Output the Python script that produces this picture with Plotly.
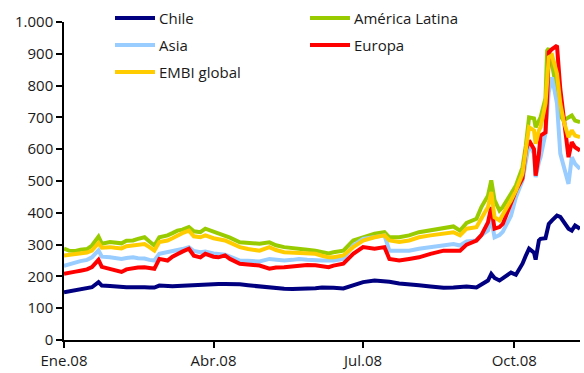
import plotly.graph_objects as go

# Spreads (basis points), 2008
dates = [
    "2008-01-01", "2008-01-04", "2008-01-08", "2008-01-11", "2008-01-15", "2008-01-18",
    "2008-01-22", "2008-01-24", "2008-01-29", "2008-02-01", "2008-02-05", "2008-02-08",
    "2008-02-12", "2008-02-15", "2008-02-19", "2008-02-22", "2008-02-25", "2008-02-28",
    "2008-03-04", "2008-03-07", "2008-03-10", "2008-03-13", "2008-03-17", "2008-03-20",
    "2008-03-24", "2008-03-27", "2008-04-01", "2008-04-04", "2008-04-08", "2008-04-11",
    "2008-04-17", "2008-04-22", "2008-04-29", "2008-05-05", "2008-05-09", "2008-05-14",
    "2008-05-19", "2008-05-23", "2008-05-28", "2008-06-02", "2008-06-06", "2008-06-10",
    "2008-06-13", "2008-06-19", "2008-06-25", "2008-07-01", "2008-07-08", "2008-07-14",
    "2008-07-17", "2008-07-23", "2008-07-29", "2008-08-04", "2008-08-11", "2008-08-19",
    "2008-08-25", "2008-08-29", "2008-09-02", "2008-09-08", "2008-09-11", "2008-09-15",
    "2008-09-17", "2008-09-19", "2008-09-22", "2008-09-24", "2008-09-26", "2008-09-29",
    "2008-10-02", "2008-10-06", "2008-10-08", "2008-10-10", "2008-10-13", "2008-10-14",
    "2008-10-16", "2008-10-17", "2008-10-20", "2008-10-21", "2008-10-22", "2008-10-24",
    "2008-10-27", "2008-10-29", "2008-10-31", "2008-11-03", "2008-11-05", "2008-11-07",
    "2008-11-10",
]

chile = [
    150, 153, 158, 160, 163, 166, 182, 171, 170, 168, 167, 166,
    166, 167, 166, 165, 165, 171, 168, 169, 170, 171, 172, 172,
    173, 174, 176, 176, 176, 176, 175, 172, 168, 165, 163, 161,
    160, 160, 162, 163, 165, 166, 164, 162, 171, 182, 187, 185,
    183, 178, 176, 172, 168, 164, 165, 166, 168, 165, 175, 187,
    208, 195, 187, 195, 203, 212, 205, 240, 265, 287, 275, 253,
    313, 318, 320, 345, 365, 376, 391, 387, 370, 350, 344, 360,
    350,
]

america_latina = [
    287, 281, 280, 284, 286, 297, 325, 303, 308, 305, 304, 312,
    313, 318, 323, 310, 297, 323, 329, 336, 344, 347, 355, 342,
    339, 350, 340, 334, 329, 322, 307, 305, 303, 307, 298, 292,
    290, 287, 284, 281, 276, 272, 276, 281, 313, 323, 334, 339,
    323, 323, 329, 339, 344, 350, 357, 344, 368, 381, 418, 454,
    502, 440, 407, 418, 433, 460, 486, 543, 610, 700, 697, 669,
    690, 700, 760, 910, 917, 869, 785, 706, 690, 700, 706, 690,
    685,
]

asia = [
    233, 238, 245, 248, 252, 260, 282, 262, 260, 257, 255, 258,
    260, 257, 256, 252, 250, 271, 276, 278, 281, 286, 292, 280,
    276, 278, 272, 271, 268, 262, 250, 249, 247, 255, 252, 250,
    252, 255, 252, 250, 250, 250, 250, 255, 297, 318, 323, 329,
    281, 281, 281, 287, 292, 297, 302, 297, 310, 313, 330, 344,
    380, 323, 330, 340, 360, 391, 449, 502, 560, 617, 586, 512,
    559, 575, 650, 732, 780, 826, 744, 586, 543, 491, 575, 554,
    538,
]

europa = [
    208, 212, 215, 218, 222, 229, 252, 230, 224, 220, 214, 222,
    226, 228, 229, 226, 224, 255, 250, 262, 271, 278, 287, 265,
    260, 271, 262, 260, 266, 255, 240, 238, 234, 224, 228, 229,
    232, 234, 236, 235, 231, 229, 234, 240, 271, 292, 287, 292,
    255, 250, 255, 260, 271, 281, 281, 281, 300, 313, 330, 370,
    418, 350, 355, 365, 391, 428, 470, 508, 596, 627, 600, 517,
    586, 643, 653, 760, 905, 915, 926, 790, 700, 575, 622, 606,
    596,
]

embi_global = [
    266, 268, 270, 272, 275, 281, 305, 290, 292, 290, 288, 295,
    297, 300, 302, 292, 281, 308, 313, 320, 329, 336, 344, 326,
    323, 329, 320, 318, 313, 306, 292, 286, 281, 292, 283, 276,
    274, 272, 272, 271, 265, 260, 260, 266, 292, 313, 323, 329,
    313, 308, 313, 323, 329, 334, 339, 329, 350, 355, 381, 418,
    465, 386, 376, 397, 413, 439, 470, 523, 600, 669, 659, 617,
    659, 669, 744, 830, 889, 895, 838, 744, 690, 638, 659, 643,
    638,
]

series_colors = {
    "Chile": "#000080",
    "América Latina": "#99CC00",
    "Asia": "#99CCFF",
    "Europa": "#FF0000",
    "EMBI global": "#FFCC00",
}
series_values = {
    "Chile": chile,
    "América Latina": america_latina,
    "Asia": asia,
    "Europa": europa,
    "EMBI global": embi_global,
}

x_tick_dates = ["2008-01-01", "2008-04-01", "2008-07-01", "2008-10-01"]
x_tick_labels = ["Ene.08", "Abr.08", "Jul.08", "Oct.08"]
y_tick_values = [0, 100, 200, 300, 400, 500, 600, 700, 800, 900, 1000]
y_tick_labels = ["0", "100", "200", "300", "400", "500", "600", "700", "800", "900", "1.000"]

W, H = 584, 373
ML, MR, MT, MB = 64, 4, 22, 33
FONT = "Open Sans"
TEXT_COLOR = "#1a1a1a"

fig = go.Figure()

# draw order: regional spreads first, EMBI global and Chile on top
for name in ["América Latina", "Asia", "Europa", "EMBI global", "Chile"]:
    fig.add_trace(go.Scatter(
        x=dates,
        y=series_values[name],
        mode="lines",
        name=name,
        line=dict(color=series_colors[name], width=4),
        showlegend=False,
    ))

# hand-placed two-column legend
pw, ph = W - ML - MR, H - MT - MB


def px_x(px):
    return (px - ML) / pw


def px_y(py):
    return (H - MB - py) / ph


legend_slots = [
    ("Chile", 115, 18),
    ("Asia", 115, 45),
    ("EMBI global", 115, 72),
    ("América Latina", 310, 18),
    ("Europa", 310, 45),
]
for name, lx, ly in legend_slots:
    fig.add_shape(
        type="line", xref="paper", yref="paper",
        x0=px_x(lx), x1=px_x(lx + 40), y0=px_y(ly), y1=px_y(ly),
        line=dict(color=series_colors[name], width=4),
    )
    fig.add_annotation(
        xref="paper", yref="paper", x=px_x(lx + 42), y=px_y(ly),
        text=name, showarrow=False, xanchor="left", yanchor="middle",
        font=dict(family=FONT, size=15, color=TEXT_COLOR),
    )

fig.update_layout(
    width=W, height=H,
    margin=dict(l=ML, r=MR, t=MT, b=MB, pad=0),
    paper_bgcolor="white", plot_bgcolor="white",
    font=dict(family=FONT, size=15, color=TEXT_COLOR),
    showlegend=False,
)
fig.update_xaxes(
    type="date", range=["2008-01-01", "2008-11-10"],
    tickvals=x_tick_dates, ticktext=x_tick_labels,
    ticks="outside", ticklen=6, tickwidth=1.5, tickcolor="black",
    showline=True, linecolor="black", linewidth=1.5,
    showgrid=False, zeroline=False,
    tickfont=dict(family=FONT, size=15, color=TEXT_COLOR),
)
fig.update_yaxes(
    range=[0, 1000],
    tickvals=y_tick_values, ticktext=y_tick_labels,
    ticks="outside", ticklen=6, tickwidth=1.5, tickcolor="black",
    showline=True, linecolor="black", linewidth=1.5,
    showgrid=False, zeroline=False,
    tickfont=dict(family=FONT, size=15, color=TEXT_COLOR),
)

fig.write_html("out.html")
